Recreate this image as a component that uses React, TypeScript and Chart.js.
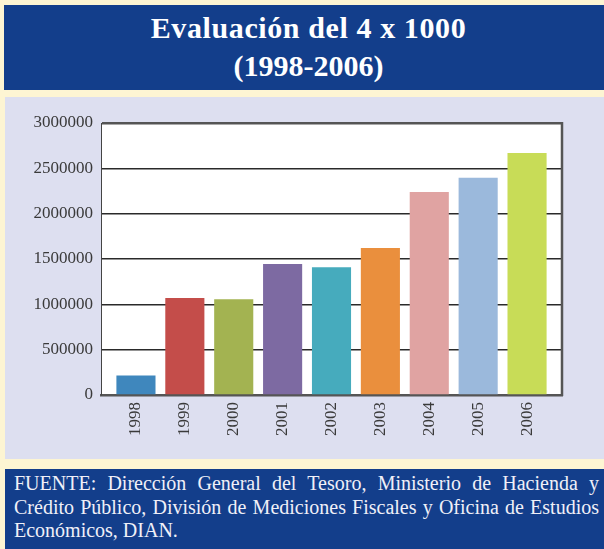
import React, { useEffect, useRef } from "react";
import { Chart, registerables, CategoryScale } from "chart.js";

const categories = ["1998", "1999", "2000", "2001", "2002", "2003", "2004", "2005", "2006"];
const values = [215000, 1070000, 1055000, 1445000, 1410000, 1620000, 2240000, 2395000, 2670000];
const barColors = ["#3f87bd", "#c44d4a", "#a3b351", "#7d6aa2", "#46abbd", "#ea8f3d", "#e0a3a2", "#9bb9dc", "#c8dc57"];
const yMin = 0;
const yMax = 3000000;
const yStep = 500000;

const titleLines = ["Evaluación del 4 x 1000", "(1998-2006)"];
const footerLines = [
  "FUENTE: Dirección General del Tesoro, Ministerio de Hacienda y",
  "Crédito Público, División de Mediciones Fiscales y Oficina de Estudios",
  "Económicos, DIAN.",
];

const BLUE = "#133e8b";
const CREAM = "#fdf5d3";
const LAVENDER = "#dddff0";
const SERIF = "'Liberation Serif', 'Times New Roman', serif";

class PaddedCategoryScale extends CategoryScale {
  static id = "paddedCategory";
  static defaults = (CategoryScale as any).defaults;
  buildTicks() {
    const ticks = super.buildTicks();
    const pad = (this.options as any).edgePad || 0;
    (this as any)._startValue -= pad;
    (this as any)._valueRange += 2 * pad;
    return ticks;
  }
}

Chart.register(...registerables, PaddedCategoryScale as any);

const plotDecor = {
  id: "plotDecor",
  beforeDraw(chart: any) {
    const { ctx, chartArea } = chart;
    ctx.save();
    ctx.fillStyle = "#ffffff";
    ctx.fillRect(chartArea.left, chartArea.top, chartArea.right - chartArea.left, chartArea.bottom - chartArea.top);
    ctx.restore();
  },
  afterDatasetsDraw(chart: any) {
    const { ctx, chartArea } = chart;
    ctx.save();
    ctx.strokeStyle = "#555555";
    ctx.lineWidth = 2.5;
    ctx.beginPath();
    ctx.moveTo(chartArea.right, chartArea.top - 1);
    ctx.lineTo(chartArea.right, chartArea.bottom + 1);
    ctx.stroke();
    ctx.restore();
  },
};

export default function App() {
  const ref = useRef<HTMLCanvasElement>(null);

  useEffect(() => {
    document.body.style.margin = "0";
    const chart = new Chart(ref.current as HTMLCanvasElement, {
      type: "bar",
      data: {
        labels: categories,
        datasets: [
          {
            data: values,
            backgroundColor: barColors,
            borderWidth: 0,
            barPercentage: 0.8,
            categoryPercentage: 1.0,
          },
        ],
      },
      options: {
        animation: false,
        responsive: false,
        maintainAspectRatio: false,
        layout: { padding: { top: 26, right: 42, bottom: 0, left: 0 } },
        plugins: { legend: { display: false }, tooltip: { enabled: false }, title: { display: false } },
        scales: {
          x: {
            type: "paddedCategory" as any,
            edgePad: 0.215,
            offset: true,
            grid: { display: false, drawTicks: false },
            border: { display: true, color: "#555555", width: 2.5 },
            ticks: {
              autoSkip: false,
              minRotation: 90,
              maxRotation: 90,
              padding: 7,
              color: "#3a3a3a",
              font: { family: SERIF, size: 17 },
            },
            afterFit(scale: any) {
              scale.height = 64;
            },
          } as any,
          y: {
            min: yMin,
            max: yMax,
            grid: {
              drawTicks: false,
              color: (c: any) => (c.tick && c.tick.value === yMax ? "#555555" : "#2a2a2a"),
              lineWidth: (c: any) => (c.tick && c.tick.value === yMax ? 2.5 : 1.5),
            },
            border: { display: true, color: "#444444", width: 1 },
            ticks: {
              stepSize: yStep,
              padding: 8,
              color: "#3a3a3a",
              font: { family: SERIF, size: 17 },
              callback: (v: any) => String(v),
            },
            afterFit(scale: any) {
              scale.width = 96;
            },
          },
        },
      },
      plugins: [plotDecor],
    });
    return () => chart.destroy();
  }, []);

  return (
    <div style={{ position: "relative", width: 604, height: 549, background: CREAM, overflow: "hidden" }}>
      <div
        style={{
          position: "absolute",
          left: 4,
          top: 5,
          width: 600,
          height: 85,
          background: BLUE,
          color: "#ffffff",
          textAlign: "center",
          fontFamily: SERIF,
          fontWeight: "bold",
          fontSize: 30,
          lineHeight: "38px",
          paddingTop: 4,
          paddingLeft: 9,
          boxSizing: "border-box",
        }}
      >
        {titleLines.map((t, i) => (
          <div key={t} style={{ letterSpacing: i === 0 ? "0.6px" : "0px" }}>
            {t}
          </div>
        ))}
      </div>
      <div style={{ position: "absolute", left: 5, top: 97, width: 599, height: 362, background: LAVENDER }}>
        <canvas ref={ref} width={599} height={362} style={{ display: "block" }} />
      </div>
      <div
        style={{
          position: "absolute",
          left: 5,
          top: 469,
          width: 599,
          height: 80,
          background: BLUE,
          color: "#f0f0f8",
          fontFamily: SERIF,
          fontSize: 20,
          lineHeight: "23.5px",
          paddingTop: 3,
          paddingLeft: 9,
          paddingRight: 5,
          boxSizing: "border-box",
        }}
      >
        {footerLines.map((t, i) => (
          <div
            key={i}
            style={{
              textAlign: i < 2 ? "justify" : "left",
              textAlignLast: i < 2 ? "justify" : "left",
              whiteSpace: "nowrap",
            } as any}
          >
            {t}
          </div>
        ))}
      </div>
    </div>
  );
}
